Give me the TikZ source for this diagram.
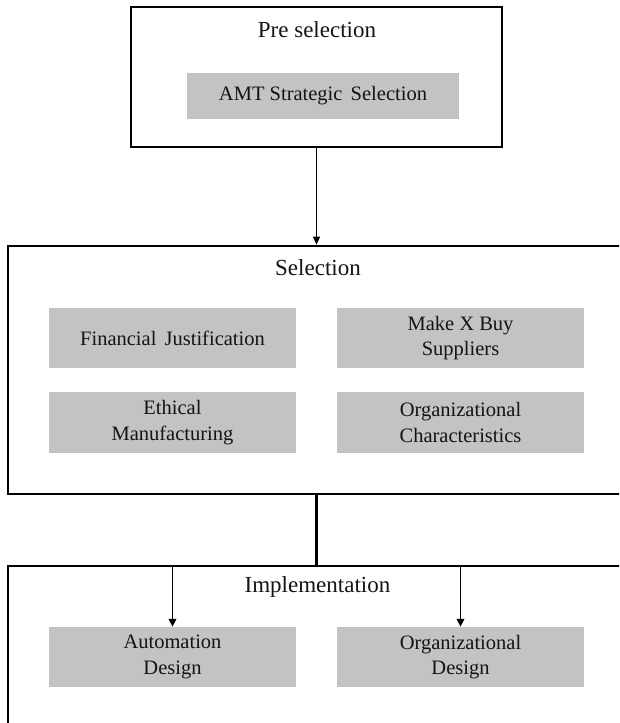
\documentclass[tikz,border=0pt]{standalone}
\usepackage{fontspec}
\setmainfont{Liberation Serif}
\usetikzlibrary{arrows.meta}
\definecolor{boxgray}{RGB}{195,195,195}
\definecolor{inktext}{RGB}{20,20,20}
\tikzset{
  frame/.style={draw=black, line width=2.6pt, inner sep=0pt},
  title/.style={font=\fontsize{23}{27}\selectfont, text=inktext, inner sep=0pt},
  item/.style={fill=boxgray, draw=none, align=center, inner sep=0pt,
    font=\fontsize{20.5}{25.5}\selectfont, text=inktext},
  thinarrow/.style={draw=black, line width=1.1pt, -{Triangle[length=8pt,width=7pt]}},
  thickline/.style={draw=black, line width=2.6pt},
  midarrow/.style={draw=black, line width=1.8pt, -{Triangle[length=8pt,width=7.5pt]}}
}
\begin{document}
\begin{tikzpicture}[x=1pt,y=-1pt]
\useasboundingbox (0,0) rectangle (619,723);
\clip (0,0) rectangle (619,723);
\fill[white] (0,0) rectangle (619,723);
% frames (Selection and Implementation run past the right and bottom edges)
\node[frame, minimum width=371pt, minimum height=140pt] (pre) at (316.5,77) {};
\node[frame, minimum width=652pt, minimum height=248pt] (sel) at (334,370) {};
\node[frame, minimum width=652pt, minimum height=158pt] (impl) at (334,645) {};
% titles
\node[title] (pret) at (317,30) {Pre selection};
\node[title] (selt) at (318,268) {Selection};
\node[title] (implt) at (317.5,587) {Implementation};
% items
\node[item, minimum width=272pt, minimum height=46pt] (amt) at (323,96) {AMT Strategic\hspace{0.4em}Selection};
\node[item, minimum width=247pt, minimum height=60pt] (fin) at (172.5,338) {Financial\hspace{0.4em}Justification};
\node[item, minimum width=247pt, minimum height=60pt] (mxb) at (460.5,338) {Make X Buy\\Suppliers};
\node[item, minimum width=247pt, minimum height=61pt] (eth) at (172.5,422.5) {Ethical\\Manufacturing};
\node[item, minimum width=247pt, minimum height=61pt] (orgc) at (460.5,422.5) {Organizational\\Characteristics};
\node[item, minimum width=247pt, minimum height=60pt] (auto) at (172.5,657) {Automation\\Design};
\node[item, minimum width=247pt, minimum height=60pt] (orgd) at (460.5,657) {Organizational\\Design};
% connectors
\draw[thinarrow] (pre.south) -- (pre.south |- sel.north);
\draw[thickline] (pre.south |- sel.south) -- (pre.south |- impl.north);
\draw[midarrow] (auto.north |- impl.north) -- (auto.north);
\draw[midarrow] (orgd.north |- impl.north) -- (orgd.north);
\end{tikzpicture}
\end{document}
